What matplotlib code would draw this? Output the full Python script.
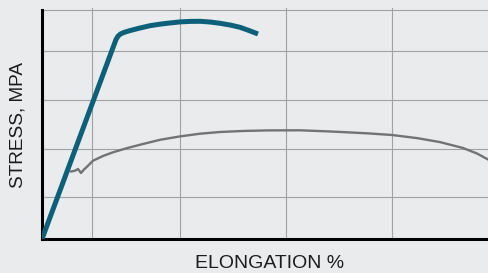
import numpy as np
import matplotlib.pyplot as plt

# strain / stress (arbitrary units)
blue_x = [0, 74, 76, 78.5, 82, 88, 98, 108, 117, 125, 138, 148, 158, 168, 178, 188, 198, 207, 216]
blue_y = [0, 199.5, 202.8, 205, 206.6, 208.4, 211, 213.3, 214.7, 215.7, 217.1, 217.6, 217.7, 217,
          215.7, 214, 211.7, 208.5, 205]

gray_x = [28, 33, 36, 39, 42, 45, 51, 61, 71, 85, 101, 118, 138, 158, 178, 200, 225,
          258, 291, 325, 350, 375, 398, 421, 435, 447]
gray_y = [67.3, 68.3, 70, 66, 69.5, 72.3, 78.3, 83, 86.7, 90.9, 95, 99.2, 102.6, 105.3, 107,
          108, 108.6, 108.7, 107.4, 105.7, 104, 100.9, 96.9, 91, 85.5, 79]

grid_x = [50, 138, 244, 350]
grid_y = [42, 90, 139, 188, 229]

bg = '#e9ebec'
fig = plt.figure(figsize=(4.89, 2.73), dpi=100, facecolor=bg)
ax = fig.add_axes([42/489, 34/273, 1.0, (273-34-8)/273], facecolor=bg)

ax.plot(gray_x, gray_y, color='#737373', lw=1.7, solid_capstyle='butt',
        solid_joinstyle='round', zorder=3)
ax.plot(blue_x, blue_y, color='#0d6079', lw=3.6, solid_capstyle='butt',
        solid_joinstyle='round', zorder=4)

ax.set_xlim(0, 489)
ax.set_ylim(0, 231)
ax.set_xticks(grid_x)
ax.set_yticks(grid_y)
ax.tick_params(length=0, labelbottom=False, labelleft=False)
ax.grid(True, color='#a2a2a2', lw=0.8)
ax.set_axisbelow(True)

for s in ['top', 'right']:
    ax.spines[s].set_visible(False)
for s in ['left', 'bottom']:
    ax.spines[s].set_color('black')
    ax.spines[s].set_linewidth(2.2)
ax.spines['left'].set_bounds(0, 229)

fig.text(18/489, 1 - 125/273, 'STRESS, MPA', rotation=90, ha='center', va='center',
         fontsize=13.7, family='Liberation Sans', color='#1c1c1c')
fig.text(270/489, 1 - 264/273, 'ELONGATION %', ha='center', va='center',
         fontsize=14, family='Liberation Sans', color='#1c1c1c')

fig.savefig('out.png', dpi=100, facecolor=bg)
